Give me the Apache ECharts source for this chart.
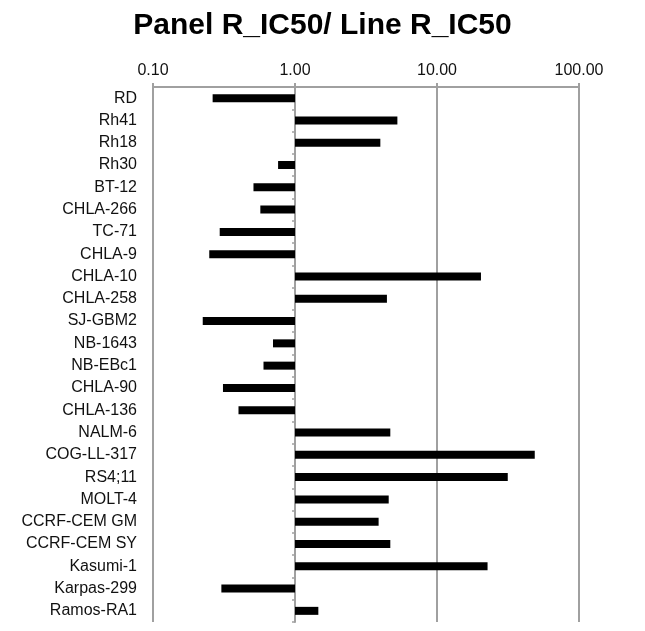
<!DOCTYPE html>
<html>
<head>
<meta charset="utf-8">
<script src="https://cdn.jsdelivr.net/npm/echarts@6/dist/echarts.min.js"></script>
<style>html,body{margin:0;padding:0;background:#fff}#c{width:645px;height:631px}</style>
</head>
<body>
<div id="c"></div>
<script>
const categories = ["RD","Rh41","Rh18","Rh30","BT-12","CHLA-266","TC-71","CHLA-9","CHLA-10","CHLA-258","SJ-GBM2","NB-1643","NB-EBc1","CHLA-90","CHLA-136","NALM-6","COG-LL-317","RS4;11","MOLT-4","CCRF-CEM GM","CCRF-CEM SY","Kasumi-1","Karpas-299","Ramos-RA1"];
const ic50Ratio = [0.263,5.26,3.99,0.76,0.51,0.57,0.295,0.249,20.4,4.44,0.224,0.70,0.60,0.311,0.40,4.69,48.8,31.5,4.57,3.88,4.69,22.7,0.303,1.46];
const tickLabels = ["0.10","1.00","10.00","100.00"];

const chart = echarts.init(document.getElementById('c'));
const font = '"Liberation Sans", Arial, sans-serif';
chart.setOption({
  animation: false,
  title: {
    text: 'Panel R_IC50/ Line R_IC50',
    left: 'center',
    top: 6,
    textStyle: {fontFamily: font, fontSize: 30, fontWeight: 'bold', color: '#000'}
  },
  grid: {left: 153, right: 66, top: 87, bottom: 9},
  xAxis: {
    type: 'log', logBase: 10, min: 0.1, max: 100, position: 'top',
    axisLine: {show: true, lineStyle: {color: '#a0a0a0', width: 2}},
    axisTick: {show: true, length: 4, lineStyle: {color: '#a0a0a0', width: 2}},
    splitLine: {show: true, lineStyle: {color: '#a0a0a0', width: 2}},
    minorTick: {show: false},
    axisLabel: {
      fontFamily: font, fontSize: 16, color: '#111', margin: 8,
      formatter: function (v) {
        const i = Math.round(Math.log10(v)) + 1;
        return tickLabels[i] !== undefined ? tickLabels[i] : v.toFixed(2);
      }
    }
  },
  yAxis: [{
    type: 'category', data: categories, inverse: true,
    axisLine: {show: false},
    axisTick: {show: false},
    axisLabel: {fontFamily: font, fontSize: 16, color: '#111', margin: 16}
  }, {
    type: 'category', data: categories, inverse: true, position: 'left', offset: -142,
    axisLine: {show: true, lineStyle: {color: '#a0a0a0', width: 2}},
    axisTick: {show: true, length: 3, lineStyle: {color: '#a0a0a0', width: 1.5}},
    axisLabel: {show: false}
  }],
  series: [{
    type: 'bar', data: ic50Ratio, yAxisIndex: 0,
    barWidth: 8,
    itemStyle: {color: '#000'},
    z: 3
  }]
});
</script>
</body>
</html>
